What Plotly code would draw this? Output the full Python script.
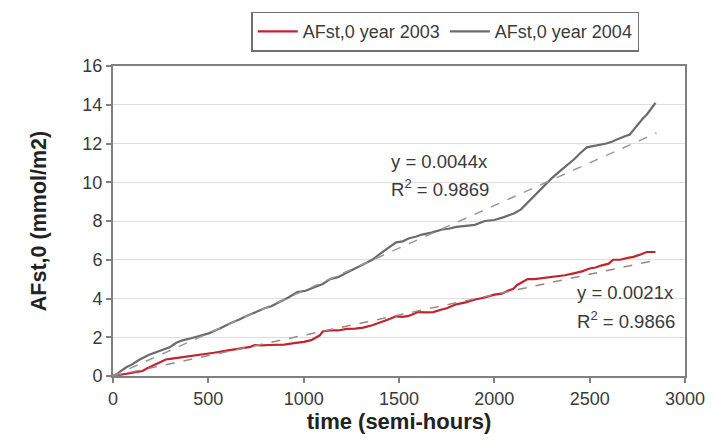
import plotly.graph_objects as go

# ---- data ----
x_2003 = [0, 30, 50, 80, 120, 155, 180, 200, 240, 277, 310, 350, 400, 450, 490, 530, 580, 621,
          680, 720, 743, 780, 820, 860, 898, 950, 1001, 1040, 1071, 1085, 1100, 1140, 1180, 1226,
          1270, 1312, 1360, 1400, 1440, 1485, 1520, 1550, 1600, 1640, 1680, 1720, 1750, 1800, 1850,
          1900, 1950, 2000, 2040, 2071, 2100, 2120, 2150, 2175, 2210, 2250, 2290, 2320, 2370, 2416,
          2460, 2500, 2530, 2560, 2600, 2623, 2660, 2700, 2730, 2760, 2800, 2830, 2845]
y_2003 = [0.0, 0.05, 0.1, 0.15, 0.2, 0.26, 0.4, 0.5, 0.7, 0.85, 0.9, 0.95, 1.05, 1.1, 1.15, 1.2,
          1.28, 1.34, 1.45, 1.5, 1.6, 1.58, 1.6, 1.6, 1.62, 1.7, 1.76, 1.85, 2.0, 2.1, 2.3, 2.35,
          2.35, 2.43, 2.45, 2.5, 2.62, 2.75, 2.9, 3.08, 3.05, 3.1, 3.3, 3.28, 3.3, 3.42, 3.5, 3.7,
          3.8, 3.95, 4.05, 4.2, 4.25, 4.4, 4.5, 4.7, 4.85, 5.0, 5.0, 5.05, 5.1, 5.15, 5.2, 5.3, 5.4,
          5.55, 5.6, 5.7, 5.8, 6.0, 6.0, 6.1, 6.15, 6.25, 6.4, 6.4, 6.4]

x_2004 = [0, 20, 40, 70, 100, 140, 190, 240, 300, 330, 364, 410, 450, 502, 560, 590, 621, 660,
          700, 750, 795, 830, 870, 920, 967, 1010, 1050, 1100, 1139, 1180, 1220, 1260, 1312, 1360,
          1400, 1440, 1485, 1520, 1550, 1590, 1620, 1670, 1726, 1760, 1800, 1850, 1898, 1950, 2000,
          2050, 2105, 2140, 2180, 2210, 2243, 2270, 2300, 2347, 2380, 2420, 2450, 2485, 2510, 2540,
          2588, 2620, 2640, 2691, 2710, 2730, 2761, 2780, 2800, 2820, 2838, 2845]
y_2004 = [0.0, 0.1, 0.25, 0.45, 0.6, 0.85, 1.1, 1.3, 1.5, 1.7, 1.84, 1.95, 2.05, 2.2, 2.45, 2.6,
          2.75, 2.9, 3.1, 3.3, 3.5, 3.6, 3.8, 4.05, 4.33, 4.4, 4.55, 4.75, 5.0, 5.1, 5.3, 5.5, 5.8,
          6.0, 6.3, 6.6, 6.9, 6.95, 7.1, 7.2, 7.3, 7.4, 7.56, 7.6, 7.7, 7.75, 7.8, 8.0, 8.05, 8.2,
          8.4, 8.6, 9.0, 9.25, 9.6, 9.9, 10.2, 10.6, 10.85, 11.2, 11.5, 11.8, 11.85, 11.9, 12.0,
          12.1, 12.2, 12.4, 12.45, 12.7, 13.1, 13.3, 13.5, 13.8, 14.0, 14.1]

slope_2003 = 0.0021
slope_2004 = 0.0044
r2_2003 = 0.9866
r2_2004 = 0.9869
trend_x = [0, 2850]

names = ["AFst,0 year 2003", "AFst,0 year 2004"]
x_ticks = [0, 500, 1000, 1500, 2000, 2500, 3000]
y_ticks = [0, 2, 4, 6, 8, 10, 12, 14, 16]

RED = "#c0252d"
GRAY = "#6b6b6b"
FONT = "Liberation Sans, Arial, sans-serif"

fig = go.Figure()
fig.add_trace(go.Scatter(x=x_2003, y=y_2003, mode="lines", name=names[0],
                         line=dict(color=RED, width=2.2)))
fig.add_trace(go.Scatter(x=x_2004, y=y_2004, mode="lines", name=names[1],
                         line=dict(color=GRAY, width=2.2)))
fig.add_trace(go.Scatter(x=trend_x, y=[slope_2004 * v for v in trend_x], mode="lines",
                         showlegend=False, hoverinfo="skip",
                         line=dict(color="#9a9a9a", width=1.5, dash="dash")))
fig.add_trace(go.Scatter(x=trend_x, y=[slope_2003 * v for v in trend_x], mode="lines",
                         showlegend=False, hoverinfo="skip",
                         line=dict(color="#a08585", width=1.5, dash="dash")))

ann_font = dict(family=FONT, size=18.5, color="#3a3a3a")
fig.add_annotation(x=1448, y=11.08, text=f"y = {slope_2004}x", showarrow=False,
                   xanchor="left", yanchor="middle", font=ann_font)
fig.add_annotation(x=1448, y=9.7, text=f"R<sup>2</sup> = {r2_2004}", showarrow=False,
                   xanchor="left", yanchor="middle", font=ann_font)
fig.add_annotation(x=2421, y=4.31, text=f"y = {slope_2003}x", showarrow=False,
                   xanchor="left", yanchor="middle", font=ann_font)
fig.add_annotation(x=2421, y=2.9, text=f"R<sup>2</sup> = {r2_2003}", showarrow=False,
                   xanchor="left", yanchor="middle", font=ann_font)

axis_common = dict(showline=True, linecolor="#808080", linewidth=2, mirror=True,
                   ticks="outside", ticklen=5, tickcolor="#808080", tickwidth=1.5,
                   tickfont=dict(family=FONT, size=18, color="#3a3a3a"), zeroline=False)

fig.update_xaxes(range=[0, 3000], tickvals=x_ticks, showgrid=False,
                 title=dict(text="<b>time (semi-hours)</b>", standoff=4,
                            font=dict(family=FONT, size=22, color="#222222")),
                 **axis_common)
fig.update_yaxes(range=[0, 16], tickvals=y_ticks, showgrid=True, gridcolor="#dedede", gridwidth=1,
                 title=dict(text="<b>AFst,0 (mmol/m2)</b>", standoff=30,
                            font=dict(family=FONT, size=21.5, color="#222222")),
                 **axis_common)

fig.update_layout(
    width=717, height=441,
    margin=dict(l=113, r=24, t=57, b=65),
    plot_bgcolor="white", paper_bgcolor="white",
    font=dict(family=FONT, size=18, color="#3a3a3a"),
    legend=dict(orientation="h", x=0.92, xanchor="right", y=1.175, yanchor="top",
                bordercolor="#707070", borderwidth=1.5, bgcolor="white",
                font=dict(family=FONT, size=18, color="#3a3a3a"),
                itemwidth=40, tracegroupgap=0),
    showlegend=True,
)

fig.write_html("out.html")
